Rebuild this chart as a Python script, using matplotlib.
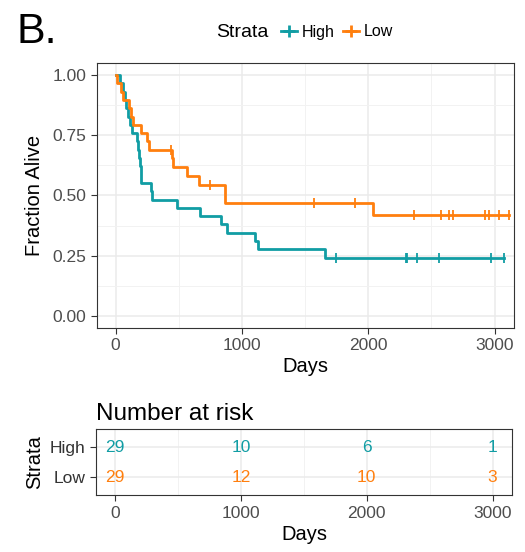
import numpy as np
import matplotlib
matplotlib.use("Agg")
import matplotlib.pyplot as plt
from matplotlib.lines import Line2D

plt.rcParams["font.family"] = ["Liberation Sans", "DejaVu Sans"]

# survival times in days (event=1 death, 0 censored)
high_times = [38, 59, 73, 86, 100, 115, 129, 168, 176, 185, 194, 198, 202, 284, 288,
              489, 668, 832, 885, 1104, 1130, 1657,
              1742, 2300, 2310, 2385, 2562, 2971, 3076]
high_event = [1] * 22 + [0] * 7

low_times = [14, 41, 57, 109, 120, 136, 199, 251, 268, 440, 447, 457, 563, 663, 748,
             866, 866, 1570, 1895, 2040, 2364, 2573, 2641, 2668, 2923, 2957, 3034,
             3115, 3115]
low_event = [1, 1, 1, 1, 1, 1, 1, 1, 1, 0, 1, 1, 1, 1, 0,
             1, 1, 0, 0, 1, 0, 0, 0, 0, 0, 0, 0,
             0, 0]

strata = ["High", "Low"]
colors = {"High": "#119DA4", "Low": "#FF7F0E"}
risk_days = [0, 1000, 2000, 3000]


def km(times, events):
    t = np.array(times, float)
    e = np.array(events)
    ut = np.unique(t)
    s = 1.0
    xs, ys, cx, cy = [0.0], [1.0], [], []
    for u in ut:
        n = np.sum(t >= u)
        d = np.sum((t == u) & (e == 1))
        c = np.sum((t == u) & (e == 0))
        if d > 0:
            s *= (n - d) / n
        xs.append(u)
        ys.append(s)
        if c > 0:
            cx.append(u)
            cy.append(s)
    return xs, ys, cx, cy


def at_risk(times, day):
    return int(np.sum(np.array(times) >= day))


data = {"High": (high_times, high_event), "Low": (low_times, low_event)}

fig = plt.figure(figsize=(5.25, 5.52), dpi=100)
grey = "#4D4D4D"
xlim = (-150, 3153)

ax = fig.add_axes([0.184, 0.406, 0.795, 0.48])
for s in strata:
    xs, ys, cx, cy = km(*data[s])
    ax.step(xs, ys, where="post", color=colors[s], lw=2, zorder=3)
    ax.plot(cx, cy, ls="none", marker="|", ms=7, mew=1.3, color=colors[s], zorder=4)

ax.set_xlim(xlim)
ax.set_ylim(-0.05, 1.05)
ax.set_xticks([0, 1000, 2000, 3000])
ax.set_yticks([0, 0.25, 0.5, 0.75, 1.0])
ax.set_yticklabels(["0.00", "0.25", "0.50", "0.75", "1.00"])
ax.set_xticks([500, 1500, 2500], minor=True)
ax.set_yticks([0.125, 0.375, 0.625, 0.875], minor=True)
ax.grid(True, which="major", color="#EBEBEB", lw=1.1)
ax.grid(True, which="minor", color="#F2F2F2", lw=0.7)
ax.set_axisbelow(True)
ax.tick_params(which="major", colors="#333333", labelcolor=grey, labelsize=12.5, length=4)
ax.tick_params(which="minor", length=0)
for sp in ax.spines.values():
    sp.set_color("#333333")
ax.set_xlabel("Days", fontsize=14.5, labelpad=3)
ax.set_ylabel("Fraction Alive", fontsize=14.5, labelpad=6)

# legend across the top
fig.text(0.032, 1 - 43 / 552, "B.", fontsize=31, va="baseline")
fig.text(216 / 525, 1 - 37 / 552, "Strata", fontsize=14, va="baseline")
handles = [Line2D([], [], color=colors[s], lw=2, marker="+", ms=8, mew=2) for s in strata]
fig.legend(handles, strata, loc="center left", bbox_to_anchor=(273 / 525, 1 - 32 / 552),
           ncol=2, frameon=False, fontsize=11.5, handlelength=1.0, handletextpad=0.3,
           columnspacing=0.55, borderpad=0)

# number at risk table
ax2 = fig.add_axes([0.183, 0.103, 0.792, 0.119])
ypos = {"High": 2, "Low": 1}
for s in strata:
    for d in risk_days:
        ax2.text(d, ypos[s], str(at_risk(data[s][0], d)), color=colors[s],
                 ha="center", va="center", fontsize=12.5)
ax2.set_xlim(xlim)
ax2.set_ylim(0.4, 2.6)
ax2.set_xticks([0, 1000, 2000, 3000])
ax2.set_xticks([500, 1500, 2500], minor=True)
ax2.set_yticks([1, 2])
ax2.set_yticklabels(["Low", "High"])
for lab, s in zip(ax2.get_yticklabels(), ["Low", "High"]):
    lab.set_color(colors[s])
ax2.grid(True, which="major", color="#EBEBEB", lw=1.1)
ax2.grid(True, which="minor", axis="x", color="#F2F2F2", lw=0.7)
ax2.set_axisbelow(True)
ax2.tick_params(which="major", colors="#333333", labelsize=12.5, length=4)
ax2.tick_params(axis="x", labelcolor=grey)
ax2.tick_params(which="minor", length=0)
for sp in ax2.spines.values():
    sp.set_color("#333333")
ax2.set_xlabel("Days", fontsize=14.5, labelpad=3)
ax2.set_ylabel("Strata", fontsize=14.5, labelpad=4)
ax2.set_title("Number at risk", fontsize=17.5, loc="left", pad=7)

fig.savefig("out.png", dpi=100)
